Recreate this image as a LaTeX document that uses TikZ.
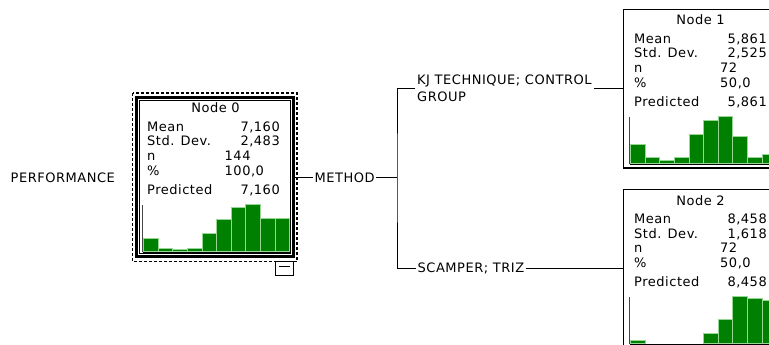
\documentclass[tikz,border=0pt]{standalone}
\usepackage{fontspec}
\newfontfamily\pix{DejaVu Sans}[LetterSpace=4]
\definecolor{bargreen}{RGB}{0,128,0}
\definecolor{baredge}{RGB}{150,215,150}
\definecolor{axisgray}{RGB}{70,70,70}
\tikzset{
  txt/.style={font=\pix\fontsize{13}{17}\selectfont, inner sep=0pt},
  lbl/.style={font=\pix\fontsize{13}{17}\selectfont, inner sep=1.5pt, align=left},
  statbox/.style={draw, rectangle, line width=1.4pt, minimum width=157pt, minimum height=158.5pt, inner sep=0pt, outer sep=0pt, anchor=north west},
  selbox/.style={statbox, line width=2.2pt, minimum height=159pt},
  bar/.style={fill=bargreen, draw=baredge, line width=0.7pt},
  link/.style={draw, line width=1pt},
  axisline/.style={draw=axisgray, line width=1pt},
  baseline/.style={draw, line width=1pt},
}
\newcommand{\StatNode}[9]{%
  \begin{scope}[shift={(#2,#3)}]
    \node[\boxstyle] (#1) at (0,0) {};
    \node[txt, anchor=base] (#1-t) at (\titlex,15.5) {#4};
    \node[txt, anchor=base west] (#1-l1) at (10.5,34) {Mean};
    \node[txt, anchor=base east] (#1-v1) at (143.5,34) {#5};
    \node[txt, anchor=base west] (#1-l2) at (10.5,48.5) {Std. Dev.};
    \node[txt, anchor=base east] (#1-v2) at (143.5,48.5) {#6};
    \node[txt, anchor=base west] (#1-l3) at (10.5,63) {n};
    \node[txt, anchor=base west] (#1-v3) at (\nvalx,63) {#7};
    \node[txt, anchor=base west] (#1-l4) at (10.5,78) {\%};
    \node[txt, anchor=base west] (#1-v4) at (\nvalx,78) {#8};
    \node[txt, anchor=base west] (#1-l5) at (10.5,97) {Predicted};
    \node[txt, anchor=base east] (#1-v5) at (143.5,97) {#5};
    \foreach \h [count=\i from 0] in {#9} {%
      \ifdim\h pt>0pt \draw[bar] (7+\i*14.6,154) rectangle ++(14.6,-\h); \fi
    }
    \draw[axisline] (6,107.5) -- (6,154.5);
    \draw[baseline] (6,154.5) -- (153,154.5);
  \end{scope}}
\begin{document}
\begin{tikzpicture}[x=1pt,y=-1pt]
  \useasboundingbox (0,0) rectangle (769,345);
  \clip (0,0) rectangle (769,345);
  \fill[white] (0,0) rectangle (769,345);

  % root variable
  \node[lbl, anchor=west] (target) at (9,178) {PERFORMANCE};

  % node 0 (selected)
  \draw[line width=1.3pt, dash pattern=on 3pt off 2pt] (132.5,93) rectangle (297,261.5);
  \def\boxstyle{selbox}\def\titlex{79}\def\nvalx{88}
  \StatNode{node0}{136.5}{97.5}{Node 0}{7,160}{2,483}{144}{100,0}{13.3,3.3,2,3.3,17.7,31.7,44.3,47,33.3,33.3}
  \draw[line width=0.7pt] (139.5,100.5) rectangle (290.7,253.5);
  \draw[line width=1pt] (275,261.5) rectangle (293.5,275);
  \draw[line width=1pt] (278.5,266) -- (290,266);

  % child nodes
  \def\boxstyle{statbox}\def\titlex{77}\def\nvalx{96.5}
  \StatNode{node1}{623.5}{9.5}{Node 1}{5,861}{2,525}{72}{50,0}{19,6,3.3,6,29,42.7,47.3,27.3,6,9.3}
  \StatNode{node2}{623.5}{189.5}{Node 2}{8,458}{1,618}{72}{50,0}{3.3,0,0,0,0,10,24,47,45,43}

  % split variable and branches
  \node[lbl, anchor=west] (method) at (313,177.5) {METHOD};
  \coordinate (split) at (397,177.5);
  \node[lbl, anchor=west, inner sep=2pt] (kj) at (415,88.75) {KJ TECHNIQUE; CONTROL\\GROUP};
  \node[lbl, anchor=west] (scamper) at (416,268.75) {SCAMPER; TRIZ};

  \draw[link] (method.west -| node0.east) -- (method.west);
  \draw[link] (method.east) -- (split);
  \draw[link] (kj.west) -| (split) |- (scamper.west);
  \draw[link] (kj.east) -- (kj.east -| node1.west);
  \draw[link] (scamper.east) -- (scamper.east -| node2.west);
\end{tikzpicture}
\end{document}
